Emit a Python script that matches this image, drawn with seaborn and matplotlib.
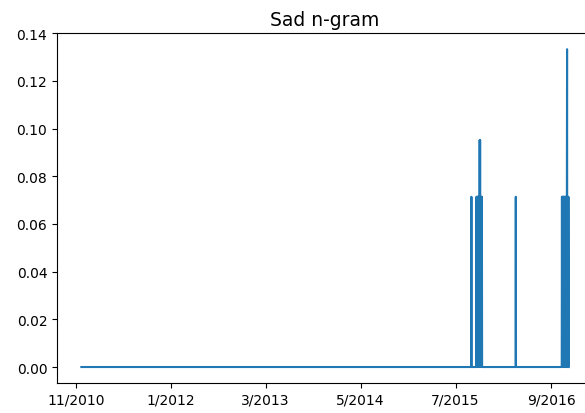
import matplotlib
matplotlib.use("Agg")
import matplotlib.pyplot as plt
import seaborn as sns
import pandas as pd

# first and last day of the series (value 0 outside the spikes)
start_date = "2010-11-26"
end_date = "2016-11-19"

# days with a non-zero score
spike_dates = [
    "2015-09-10",
    "2015-10-03", "2015-10-05", "2015-10-07", "2015-10-09", "2015-10-11",
    "2015-10-13", "2015-10-15", "2015-10-17", "2015-10-19", "2015-10-21",
    "2015-10-23", "2015-10-25", "2015-10-27",
    "2016-03-27",
    "2016-10-20", "2016-10-22", "2016-10-24", "2016-10-26", "2016-10-28",
    "2016-10-30", "2016-11-01", "2016-11-03", "2016-11-05", "2016-11-07",
    "2016-11-09", "2016-11-11", "2016-11-12", "2016-11-14", "2016-11-16",
    "2016-11-18",
]
spike_values = [
    0.0714,
    0.0714, 0.0714, 0.0714, 0.0714, 0.0714,
    0.0714, 0.0714, 0.0952, 0.0952, 0.0714,
    0.0714, 0.0714, 0.0714,
    0.0714,
    0.0714, 0.0714, 0.0714, 0.0714, 0.0714,
    0.0714, 0.0714, 0.0714, 0.0714, 0.0714,
    0.0714, 0.0714, 0.1333, 0.0714, 0.0714,
    0.0714,
]

tick_dates = ["2010-11-01", "2012-01-01", "2013-03-01", "2014-05-01", "2015-07-01", "2016-09-01"]
tick_labels = ["11/2010", "1/2012", "3/2013", "5/2014", "7/2015", "9/2016"]

# daily series, zero except on spike days
days = pd.date_range(start_date, end_date, freq="D")
score = pd.Series(0.0, index=days)
score[pd.to_datetime(spike_dates)] = spike_values
df = pd.DataFrame({"date": days, "score": score.values})

fig = plt.figure(figsize=(5.85, 4.14), dpi=100)
ax = fig.add_axes([57 / 585, 30 / 414, 536 / 585, 350 / 414])

sns.lineplot(data=df, x="date", y="score", estimator=None, color="#1f77b4", linewidth=1.5, ax=ax)

ax.set_ylim(-0.0067, 0.1401)
ax.set_xticks(pd.to_datetime(tick_dates))
ax.set_xticklabels(tick_labels)
ax.set_title("Sad n-gram", fontsize=13.5)
ax.set_xlabel("")
ax.set_ylabel("")

fig.savefig("out.png", dpi=100)
